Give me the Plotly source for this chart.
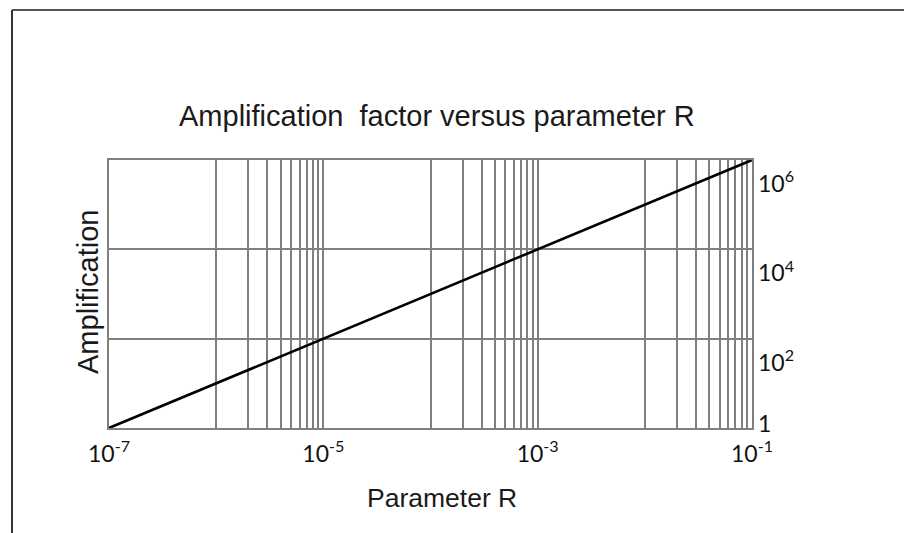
import plotly.graph_objects as go

# ---- data ----
param_r = [1e-7, 1e-5, 1e-3, 1e-1]
amplification = [1, 1e2, 1e4, 1e6]

x_label_vals = [1e-7, 1e-5, 1e-3, 1e-1]
x_label_text = ["10<sup>-7</sup>", "10<sup>-5</sup>", "10<sup>-3</sup>", "10<sup>-1</sup>"]
x_grid_decades = [1e-6, 1e-4, 1e-2]           # decades drawn with minor lines
x_grid_mult = [1, 2, 3, 4, 5, 6, 7, 8, 9, 10]

y_grid_vals = [1, 1e2, 1e4, 1e6]
y_label_vals_upper = [1e2, 1e4, 1e6]
y_label_text_upper = ["10<sup>2</sup>", "10<sup>4</sup>", "10<sup>6</sup>"]
y_label_vals_base = [1]
y_label_text_base = ["1"]

title_text = "Amplification&nbsp; factor versus parameter R"
x_title = "Parameter R"
y_title = "Amplification"

# ---- styling ----
GRID = "#7f7f7f"
LABEL_FONT = dict(family="Lato", size=23, color="#111111")
TEXT_FONT = dict(family="Liberation Sans, Arial", color="#1a1a1a")

# page body margin offset compensation (px)
OFF = 7
L, T = 108 - OFF, 159 - OFF
W, H = 643, 268

x_minor_vals = [d * m for d in x_grid_decades for m in x_grid_mult]

fig = go.Figure()
fig.add_trace(go.Scatter(
    x=param_r, y=amplification, mode="lines",
    line=dict(color="#000000", width=2.6),
    showlegend=False, hoverinfo="skip",
))
# invisible traces to activate overlay axes
fig.add_trace(go.Scatter(x=param_r, y=amplification, yaxis="y2", mode="lines",
                         line=dict(width=0), showlegend=False, hoverinfo="skip"))
fig.add_trace(go.Scatter(x=param_r, y=amplification, yaxis="y3", mode="lines",
                         line=dict(width=0), showlegend=False, hoverinfo="skip"))

fig.update_layout(
    width=914, height=533,
    paper_bgcolor="white", plot_bgcolor="white",
    margin=dict(l=L, r=914 - L - W, t=T, b=533 - T - H, autoexpand=False),
    xaxis=dict(
        type="log", range=[-7, -1],
        tickmode="array", tickvals=x_label_vals, ticktext=x_label_text,
        tickfont=LABEL_FONT, ticks="", ticklabelstandoff=4,
        showgrid=True, gridcolor=GRID, gridwidth=1.6,
        minor=dict(tickmode="array", tickvals=x_minor_vals, showgrid=True,
                   gridcolor=GRID, gridwidth=1.6, ticks=""),
        showline=True, linecolor=GRID, linewidth=2, mirror=True,
        zeroline=False,
    ),
    yaxis=dict(
        type="log", range=[0, 6],
        tickmode="array", tickvals=y_grid_vals, showticklabels=False,
        ticks="", showgrid=True, gridcolor=GRID, gridwidth=1.6,
        showline=True, linecolor=GRID, linewidth=2, mirror=True,
        zeroline=False,
    ),
    yaxis2=dict(
        type="log", range=[0, 6], overlaying="y", side="right", anchor="x",
        tickmode="array", tickvals=y_label_vals_upper, ticktext=y_label_text_upper,
        tickfont=LABEL_FONT, ticks="", showgrid=False, zeroline=False,
        ticklabelshift=24, ticklabelstandoff=5, showline=False,
    ),
    yaxis3=dict(
        type="log", range=[0, 6], overlaying="y", side="right", anchor="x",
        tickmode="array", tickvals=y_label_vals_base, ticktext=y_label_text_base,
        tickfont=LABEL_FONT, ticks="", showgrid=False, zeroline=False,
        ticklabelshift=-4, ticklabelstandoff=5, showline=False,
    ),
    annotations=[
        dict(text=title_text, xref="paper", yref="paper",
             x=(436 - 108) / W, y=(427 - 115) / H,
             xanchor="center", yanchor="middle", showarrow=False,
             font=dict(size=29, **TEXT_FONT)),
        dict(text=x_title, xref="paper", yref="paper",
             x=(441 - 108) / W, y=(427 - 497) / H,
             xanchor="center", yanchor="middle", showarrow=False,
             font=dict(size=26.5, **TEXT_FONT)),
        dict(text=y_title, xref="paper", yref="paper",
             x=(87 - 108) / W, y=(427 - 291) / H, textangle=-90,
             xanchor="center", yanchor="middle", showarrow=False,
             font=dict(size=29, **TEXT_FONT)),
    ],
    shapes=[
        dict(type="line", xref="paper", yref="paper",
             x0=(11 - 108) / W, x1=(903 - 108) / W,
             y0=(427 - 9) / H, y1=(427 - 9) / H,
             line=dict(color="#555555", width=2)),
        dict(type="line", xref="paper", yref="paper",
             x0=(11 - 108) / W, x1=(11 - 108) / W,
             y0=(427 - 9) / H, y1=(427 - 540) / H,
             line=dict(color="#333333", width=2)),
    ],
)

fig.write_html("out.html")
